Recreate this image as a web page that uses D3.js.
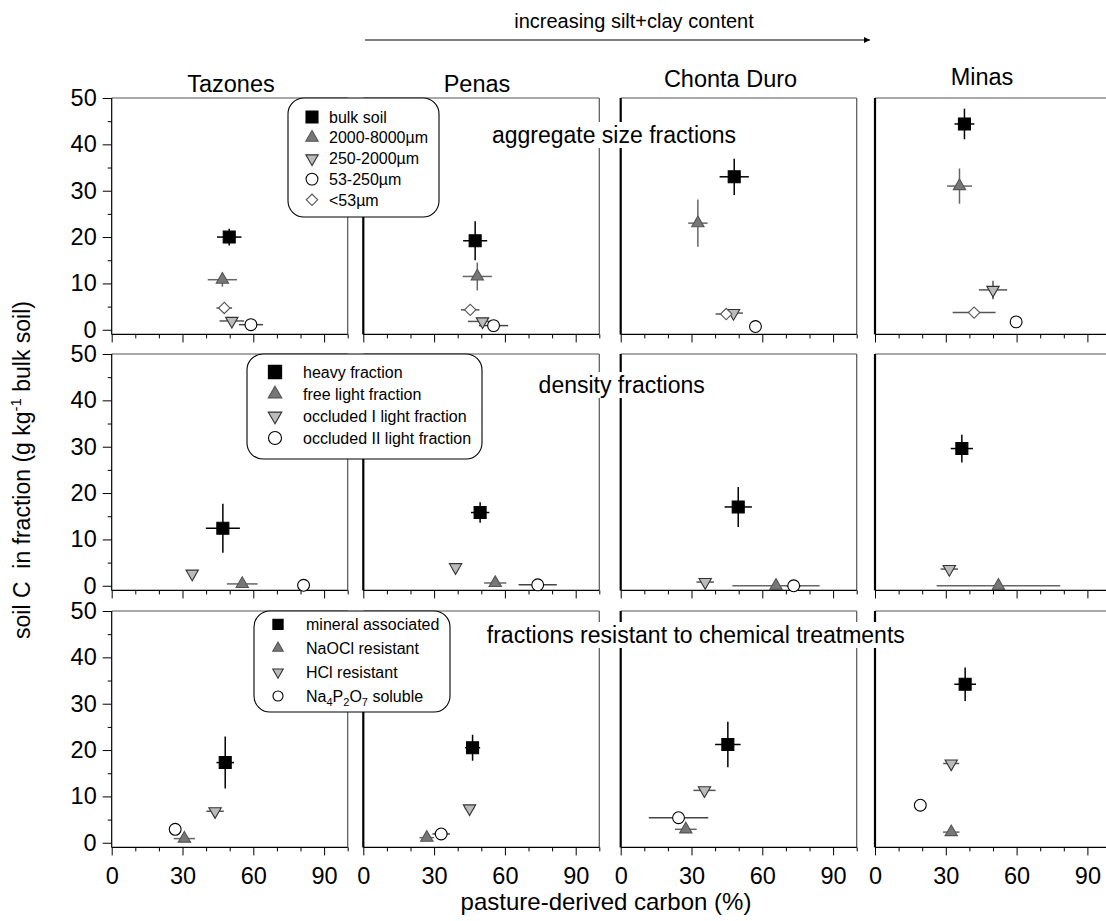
<!DOCTYPE html>
<html>
<head>
<meta charset="utf-8">
<script src="https://cdn.jsdelivr.net/npm/d3@7"></script>
<style>
  body { margin: 0; background: #fff; }
  svg { font-family: Arial, "Liberation Sans", sans-serif; }
</style>
</head>
<body>
<svg id="chart" width="1106" height="921"></svg>
<script>
// ---- data: [x %, y g/kg, x error, y error] per site (Tazones, Penas, Chonta Duro, Minas)
const sites = ["Tazones", "Penas", "Chonta Duro", "Minas"];
const rowTitles = ["aggregate size fractions", "density fractions", "fractions resistant to chemical treatments"];
const xMajor = [0, 30, 60, 90];
const xMinor = [10, 20, 40, 50, 70, 80, 100];
const yMajor = [0, 10, 20, 30, 40, 50];
const yMinor = [5, 15, 25, 35, 45];

const aggLabels = ["bulk soil", "2000-8000µm", "250-2000µm", "53-250µm", "<53µm"];
const aggBulk = [[49.8, 20.0, 5.2, 1.8], [47.4, 19.2, 5.1, 4.2], [48.1, 33.0, 6.2, 3.9], [37.9, 44.4, 4.2, 3.3]];
const agg2000 = [[46.9, 10.8, 6.2, 1.5], [48.3, 11.5, 6.2, 3.0], [32.7, 23.0, 4.1, 5.1], [35.8, 31.0, 5.3, 3.8]];
const agg250 = [[50.9, 1.9, 5.2, 0.6], [50.5, 1.8, 6.2, 0.5], [47.8, 3.6, 4.0, 0.5], [50.0, 8.6, 6.0, 2.0]];
const agg53 = [[59.0, 1.1, 5.1, 0.3], [55.2, 0.9, 6.2, 0.3], [57.1, 0.7, 0, 0], [59.8, 1.7, 0, 0]];
const aggSilt = [[47.7, 4.7, 3.3, 0.4], [45.3, 4.3, 3.9, 0.3], [44.7, 3.4, 4.5, 0.3], [42.0, 3.7, 9.1, 0.3]];

const denLabels = ["heavy fraction", "free light fraction", "occluded I light fraction", "occluded II light fraction"];
const denHeavy = [[47.1, 12.4, 7.2, 5.3], [49.5, 15.8, 3.9, 2.2], [49.8, 17.0, 5.8, 4.3], [36.8, 29.6, 4.7, 3.0]];
const denFree = [[55.3, 0.4, 6.5, 0.3], [55.9, 0.6, 4.7, 0.2], [65.8, 0.0, 18.5, 0.1], [52.3, 0.0, 26.2, 0.1]];
const denOccI = [[34.1, 2.6, 0, 0.3], [39.1, 4.0, 1.5, 0.5], [35.8, 0.8, 3.7, 0.2], [31.5, 3.6, 3.7, 0.3]];
const denOccII = [[81.3, 0.1, 1.5, 0], [73.9, 0.2, 8.1, 0], [73.3, 0.0, 3.0, 0], null];

const chmLabels = ["mineral associated", "NaOCl resistant", "HCl resistant", "Na4P2O7 soluble"];
const chmMineral = [[48.1, 17.3, 3.7, 5.6], [46.3, 20.5, 3.2, 2.8], [45.4, 21.2, 5.4, 4.9], [38.2, 34.2, 4.6, 3.6]];
const chmNaOCl = [[30.8, 0.9, 4.5, 0.2], [26.9, 1.1, 3.1, 0.2], [27.6, 2.9, 4.6, 0.3], [32.3, 2.3, 3.5, 0.2]];
const chmHCl = [[43.8, 6.8, 3.7, 0.3], [45.0, 7.4, 2.0, 0.3], [35.5, 11.3, 4.7, 0.3], [32.3, 17.1, 3.4, 0.3]];
const chmPyro = [[26.9, 2.9, 1.0, 0.2], [33.0, 1.9, 3.7, 0.2], [24.5, 5.4, 12.6, 0.3], [19.2, 8.1, 1.5, 0.3]];

const rows = [
  { labels: aggLabels, series: [aggBulk, agg2000, agg250, agg53, aggSilt] },
  { labels: denLabels, series: [denHeavy, denFree, denOccI, denOccII] },
  { labels: chmLabels, series: [chmMineral, chmNaOCl, chmHCl, chmPyro] },
];

// ---- layout
const colLeft = [111.7, 363.3, 620.7, 875];
const panelW = 236;
const rowTop = [98, 354, 611];
const panelH = 236.4;
const titlePos = [[231, 91.7], [477, 91.7], [730.5, 87], [982, 85]];
const rowTitlePos = [[614, 143], [621.7, 393], [695.8, 643]];
const legendBox = [
  { x: 288, y: 98, w: 151, h: 119, y0: 117, dy: 20.7, sx: 312, tx: 329, scale: 1 },
  { x: 247, y: 354, w: 235, h: 105, y0: 372, dy: 22, sx: 275, tx: 303, scale: 1.1 },
  { x: 254, y: 611, w: 196, h: 101, y0: 624.3, dy: 23.9, sx: 278, tx: 306, scale: 0.85 },
];

// marker styles: square, up triangle, down triangle, circle, diamond
const styles = [
  { type: d3.symbolSquare, size: 144, fill: "#000", stroke: "#000", rot: 0, bar: "#000" },
  { type: d3.symbolTriangle, size: 66, fill: "#777", stroke: "#555", rot: 0, bar: "#666" },
  { type: d3.symbolTriangle, size: 66, fill: "#bbb", stroke: "#333", rot: 180, bar: "#555" },
  { type: d3.symbolCircle, size: 110, fill: "#fff", stroke: "#000", rot: 0, bar: "#444" },
  { type: d3.symbolSquare, size: 64, fill: "#fff", stroke: "#555", rot: 45, bar: "#555" },
];

const svg = d3.select("#chart");
svg.append("rect").attr("width", 1106).attr("height", 921).attr("fill", "#fff");

function marker(g, st, cx, cy, scale = 1) {
  g.append("path")
    .attr("d", d3.symbol().type(st.type).size(st.size * scale * scale)())
    .attr("transform", `translate(${cx},${cy}) rotate(${st.rot})`)
    .attr("fill", st.fill)
    .attr("stroke", st.stroke)
    .attr("stroke-width", 1.1);
}

rows.forEach((row, r) => {
  const top = rowTop[r];
  const bottom = top + panelH;
  const y = d3.scaleLinear().domain([-1, 50]).range([bottom, top]);

  sites.forEach((site, c) => {
    const left = colLeft[c];
    const x = d3.scaleLinear().domain([0, 100]).range([left, left + panelW]);
    const g = svg.append("g");

    // frame
    g.append("line").attr("x1", left).attr("x2", left + panelW).attr("y1", top).attr("y2", top)
      .attr("stroke", "#555").attr("stroke-width", 1.2);
    g.append("line").attr("x1", left + panelW).attr("x2", left + panelW).attr("y1", top).attr("y2", bottom)
      .attr("stroke", "#555").attr("stroke-width", 1.2);

    // x axis
    const xa = g.append("g").attr("transform", `translate(0,${bottom})`)
      .call(d3.axisBottom(x).tickValues(xMajor).tickSize(8).tickSizeOuter(0).tickPadding(12)
        .tickFormat(r === 2 ? d3.format("d") : () => ""));
    g.append("g").attr("transform", `translate(0,${bottom})`)
      .call(d3.axisBottom(x).tickValues(xMinor).tickSize(4).tickSizeOuter(0).tickFormat(() => ""))
      .select(".domain").remove();
    xa.select(".domain").remove();
    xa.selectAll("text").attr("font-size", 23.5).attr("font-family", "Arial, 'Liberation Sans', sans-serif").attr("fill", "#000");
    g.selectAll(".tick line").attr("stroke", "#000");

    // y axis (ticks only on first column)
    if (c === 0) {
      const ya = g.append("g").attr("transform", `translate(${left},0)`)
        .call(d3.axisLeft(y).tickValues(yMajor).tickSize(9).tickSizeOuter(0).tickPadding(6));
      ya.select(".domain").remove();
      ya.selectAll("text").attr("font-size", 23.5).attr("font-family", "Arial, 'Liberation Sans', sans-serif").attr("fill", "#000");
      g.append("g").attr("transform", `translate(${left},0)`)
        .call(d3.axisLeft(y).tickValues(yMinor).tickSize(4).tickSizeOuter(0).tickFormat(() => ""))
        .select(".domain").remove();
    }

    g.append("line").attr("x1", left).attr("x2", left + panelW).attr("y1", bottom).attr("y2", bottom)
      .attr("stroke", "#000").attr("stroke-width", 1.2);
    g.append("line").attr("x1", left).attr("x2", left).attr("y1", top).attr("y2", bottom)
      .attr("stroke", "#000").attr("stroke-width", c === 0 ? 1.2 : 2.2);

    // error bars then markers
    row.series.forEach((s, i) => {
      const d = s[c];
      if (!d) return;
      const st = styles[i];
      const [px, py, ex, ey] = d;
      if (ex > 0)
        g.append("line").attr("x1", x(px - ex)).attr("x2", x(px + ex)).attr("y1", y(py)).attr("y2", y(py))
          .attr("stroke", st.bar).attr("stroke-width", 1.5);
      if (ey > 0)
        g.append("line").attr("x1", x(px)).attr("x2", x(px)).attr("y1", y(py - ey)).attr("y2", y(py + ey))
          .attr("stroke", st.bar).attr("stroke-width", 1.5);
    });
    row.series.forEach((s, i) => {
      const d = s[c];
      if (!d) return;
      marker(g, styles[i], x(d[0]), y(d[1]));
    });
  });

  // row title with white background
  const [tx, ty] = rowTitlePos[r];
  const tg = svg.append("g");
  const bg = tg.append("rect").attr("fill", "#fff");
  const t = tg.append("text").attr("x", tx).attr("y", ty).attr("text-anchor", "middle")
    .attr("font-size", 23).attr("fill", "#000").text(rowTitles[r]);
  const bb = t.node().getBBox();
  bg.attr("x", bb.x - 2).attr("y", bb.y).attr("width", bb.width + 4).attr("height", bb.height);

  // legend
  const lb = legendBox[r];
  const lg = svg.append("g");
  lg.append("rect").attr("x", lb.x).attr("y", lb.y).attr("width", lb.w).attr("height", lb.h)
    .attr("rx", 16).attr("fill", "#fff").attr("stroke", "#000").attr("stroke-width", 1.1);
  row.labels.forEach((lab, i) => {
    const yy = lb.y0 + i * lb.dy;
    marker(lg, styles[i], lb.sx, yy, lb.scale);
    const txt = lg.append("text").attr("x", lb.tx).attr("y", yy).attr("dy", "0.36em")
      .attr("font-size", 16).attr("fill", "#000");
    if (lab === "Na4P2O7 soluble") {
      txt.append("tspan").text("Na");
      txt.append("tspan").attr("font-size", 11).attr("dy", 4).text("4");
      txt.append("tspan").attr("dy", -4).text("P");
      txt.append("tspan").attr("font-size", 11).attr("dy", 4).text("2");
      txt.append("tspan").attr("dy", -4).text("O");
      txt.append("tspan").attr("font-size", 11).attr("dy", 4).text("7");
      txt.append("tspan").attr("dy", -4).text(" soluble");
    } else {
      txt.text(lab);
    }
  });
});

// column titles
sites.forEach((s, c) => {
  svg.append("text").attr("x", titlePos[c][0]).attr("y", titlePos[c][1]).attr("text-anchor", "middle")
    .attr("font-size", 23.5).attr("fill", "#000").text(s);
});

// top arrow
svg.append("defs").append("marker").attr("id", "arrow").attr("viewBox", "0 0 10 10")
  .attr("refX", 10).attr("refY", 5).attr("markerWidth", 10).attr("markerHeight", 6)
  .attr("markerUnits", "userSpaceOnUse").attr("orient", "auto")
  .append("path").attr("d", "M0,0 L10,5 L0,10 z").attr("fill", "#000");
svg.append("line").attr("x1", 365).attr("x2", 870).attr("y1", 40).attr("y2", 40)
  .attr("stroke", "#000").attr("stroke-width", 1.2).attr("marker-end", "url(#arrow)");
svg.append("text").attr("x", 634).attr("y", 28).attr("text-anchor", "middle")
  .attr("font-size", 20).attr("fill", "#000").text("increasing silt+clay content");

// axis titles
svg.append("text").attr("x", 606).attr("y", 910).attr("text-anchor", "middle")
  .attr("font-size", 24).attr("fill", "#000").text("pasture-derived carbon (%)");
const yl = svg.append("text").attr("transform", "translate(30,470) rotate(-90)")
  .attr("text-anchor", "middle").attr("font-size", 23).attr("fill", "#000")
  .style("white-space", "pre");
yl.append("tspan").text("soil C  in fraction (g kg");
yl.append("tspan").attr("font-size", 15).attr("dy", -9).text("-1");
yl.append("tspan").attr("dy", 9).text(" bulk soil)");
</script>
</body>
</html>
